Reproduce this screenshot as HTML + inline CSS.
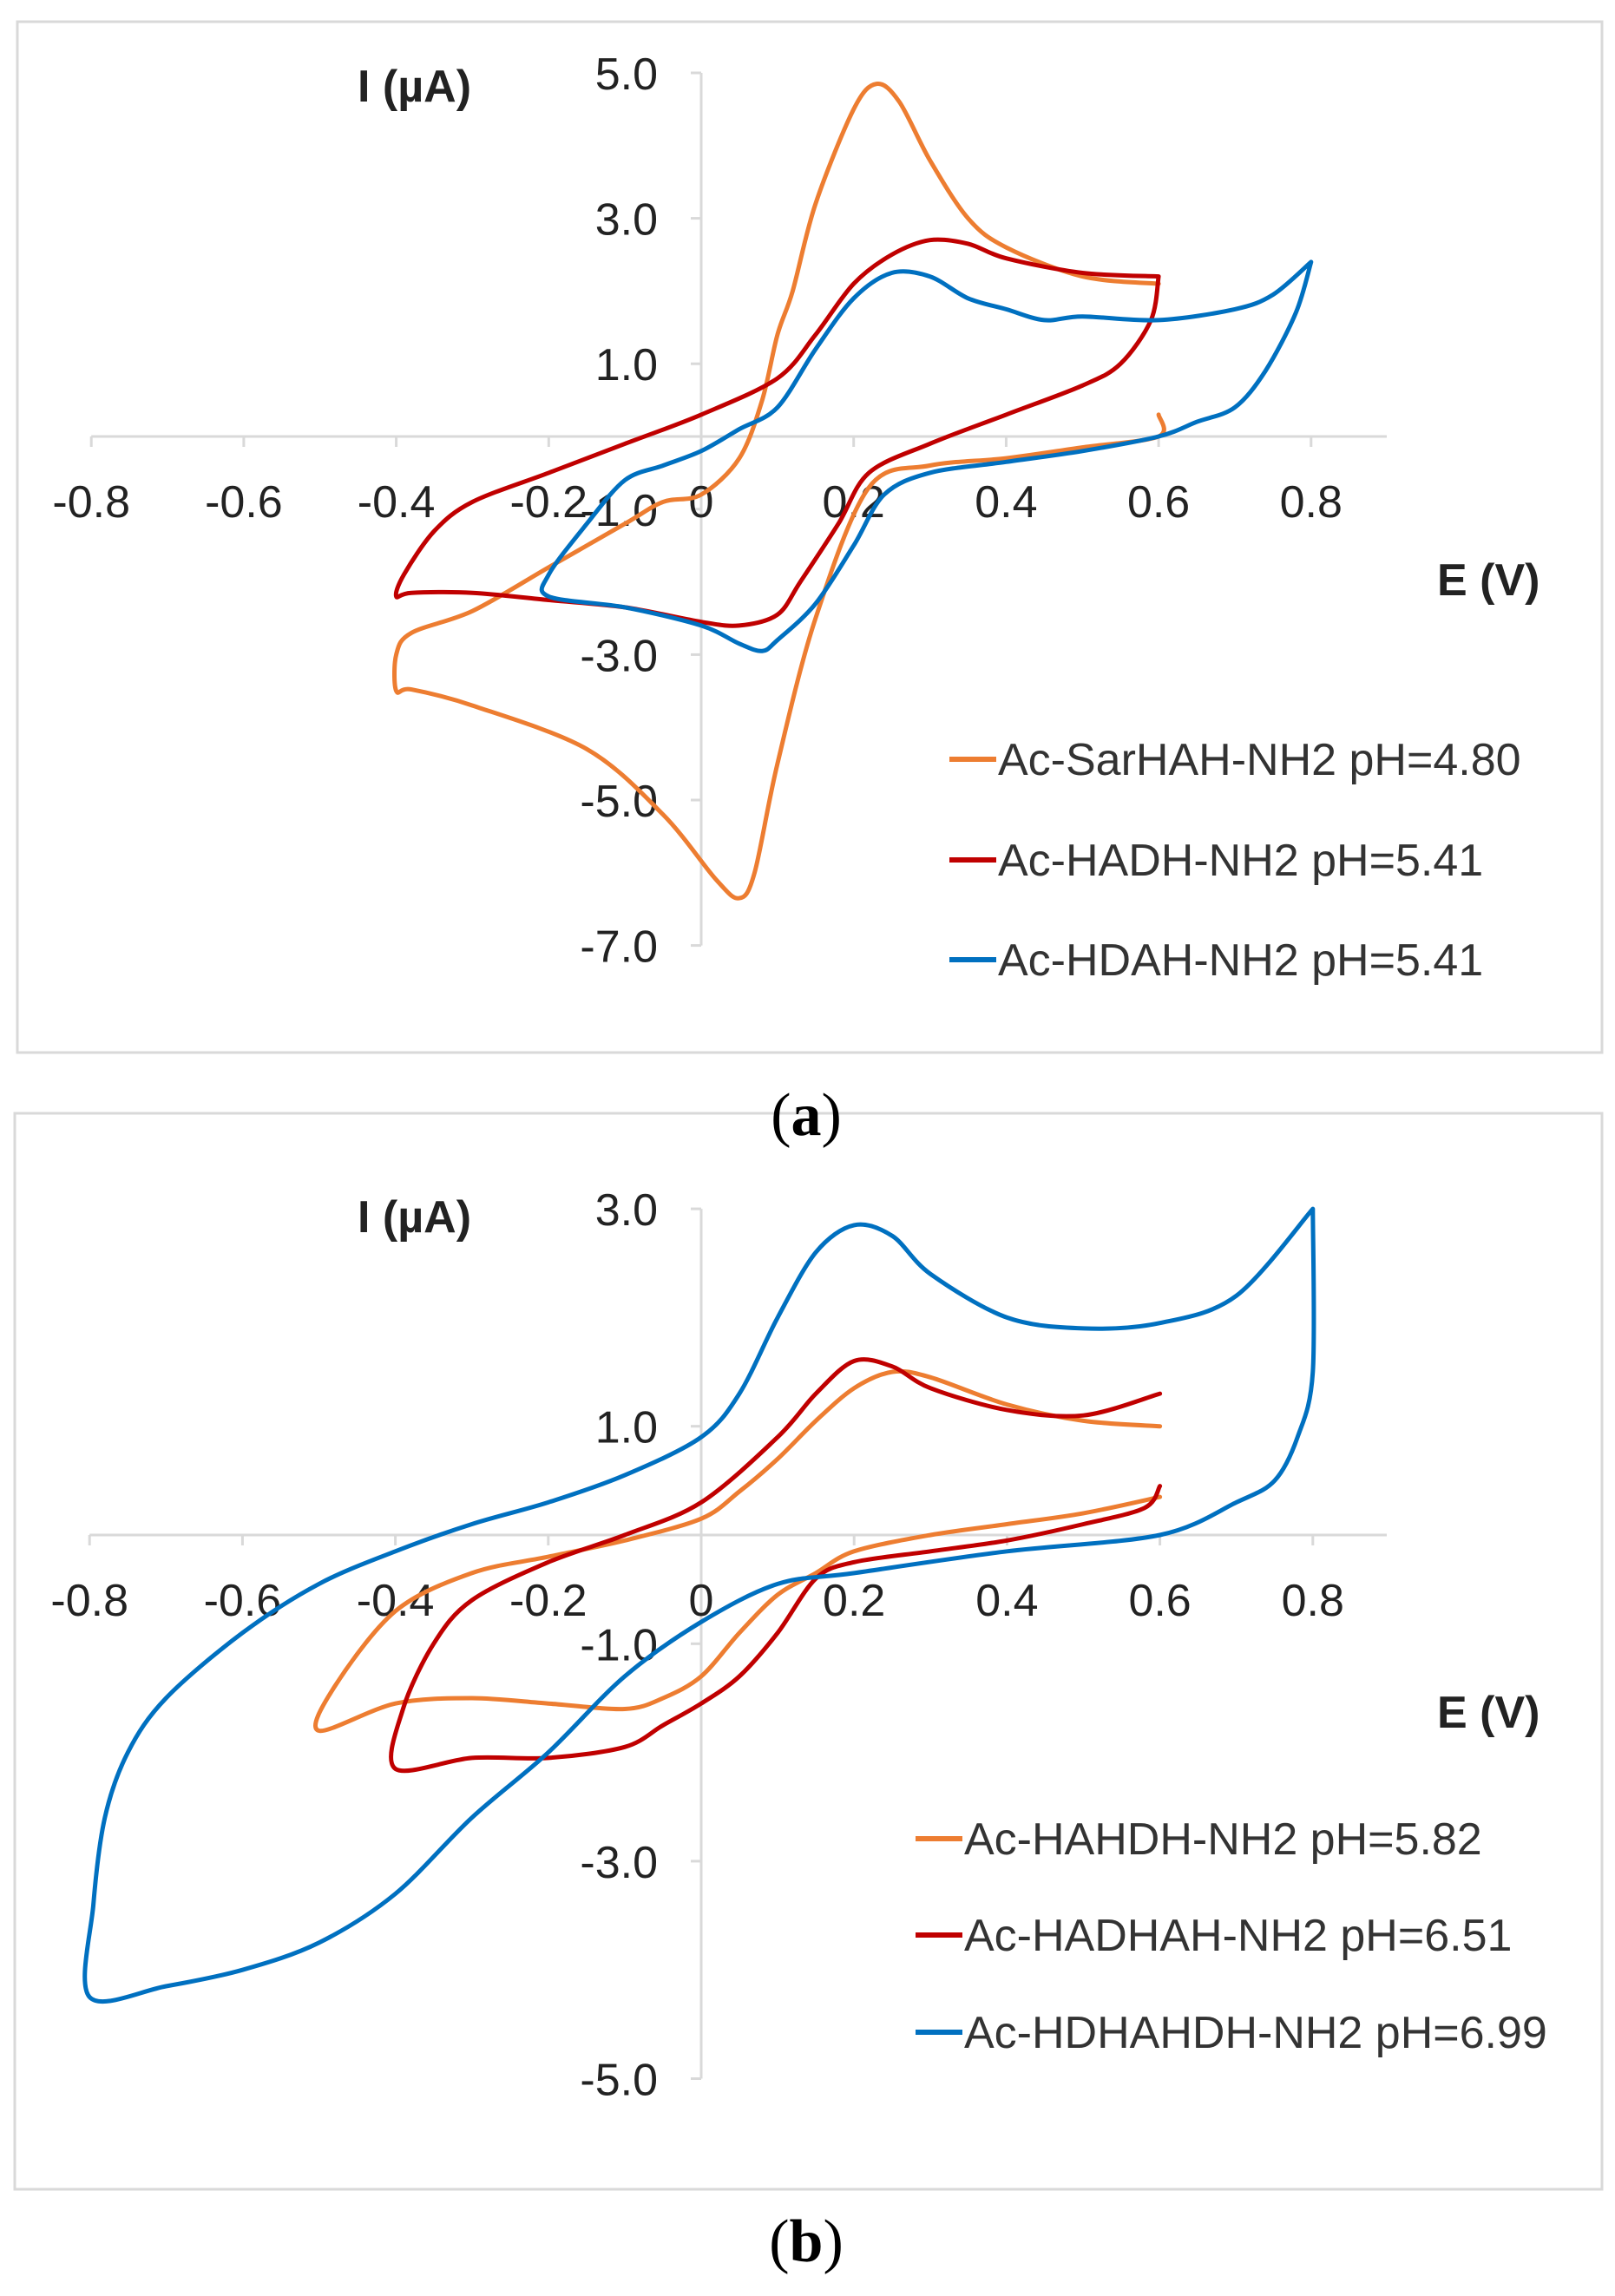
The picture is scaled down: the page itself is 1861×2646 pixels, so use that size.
<!DOCTYPE html>
<html><head><meta charset="utf-8"><style>
html,body{margin:0;padding:0;background:#fff;}
svg{display:block;}
.sans{font-family:"Liberation Sans",sans-serif;}
.serif{font-family:"Liberation Serif",serif;}
</style></head><body>
<svg id="fig" width="1861" height="2646" viewBox="0 0 1861 2646" xmlns="http://www.w3.org/2000/svg">
<rect x="20" y="25" width="1826" height="1188" fill="none" stroke="#d9d9d9" stroke-width="3"/>
<rect x="17" y="1283" width="1829" height="1240" fill="none" stroke="#d9d9d9" stroke-width="3"/>
<text class="serif" x="929" y="1308" font-size="70" text-anchor="middle">(<tspan font-weight="bold">a</tspan>)</text>
<text class="serif" x="929" y="2606" font-size="70" text-anchor="middle">(<tspan font-weight="bold">b</tspan>)</text>
</svg>
<script>
// Panel A data
const aXTicks = [-0.8,-0.6,-0.4,-0.2,0,0.2,0.4,0.6,0.8];
const aYTicks = [5.0,3.0,1.0,-1.0,-3.0,-5.0,-7.0];
const aNames = ["Ac-SarHAH-NH2 pH=4.80","Ac-HADH-NH2 pH=5.41","Ac-HDAH-NH2 pH=5.41"];
const aOrangeE = [0.6,0.6,0.5,0.4,0.3,0.22,0.15,0.1,0.07,0.05,0.02,-0.05,-0.15,-0.3,-0.38,-0.4,-0.4,-0.38,-0.3,-0.2,-0.1,-0.05,0,0.05,0.08,0.1,0.12,0.15,0.2,0.23,0.26,0.3,0.35,0.4,0.5,0.6];
const aOrangeI = [0.3,0.0,-0.15,-0.3,-0.4,-0.7,-2.5,-4.5,-6.0,-6.35,-6.1,-5.2,-4.3,-3.7,-3.48,-3.5,-3.0,-2.7,-2.4,-1.8,-1.2,-0.9,-0.8,-0.3,0.5,1.4,2.0,3.2,4.5,4.85,4.6,3.8,3.0,2.6,2.2,2.1];
const aRedE = [0.6,0.59,0.55,0.5,0.4,0.3,0.22,0.18,0.13,0.1,0.05,0,-0.1,-0.2,-0.3,-0.38,-0.4,-0.39,-0.35,-0.3,-0.2,-0.1,0,0.1,0.15,0.2,0.25,0.3,0.35,0.4,0.5,0.6];
const aRedI = [2.2,1.6,1.0,0.7,0.3,-0.1,-0.5,-1.2,-2.0,-2.45,-2.6,-2.55,-2.35,-2.25,-2.15,-2.15,-2.2,-1.9,-1.3,-0.9,-0.5,-0.1,0.3,0.8,1.4,2.1,2.5,2.7,2.65,2.45,2.25,2.2];
const aBlueE = [0.8,0.78,0.74,0.7,0.65,0.6,0.5,0.4,0.3,0.24,0.2,0.15,0.1,0.08,0.05,0,-0.1,-0.2,-0.2,-0.15,-0.1,-0.05,0,0.05,0.1,0.15,0.2,0.25,0.3,0.35,0.4,0.45,0.5,0.6,0.7,0.75,0.8];
const aBlueI = [2.4,1.7,0.9,0.4,0.2,0.0,-0.2,-0.35,-0.5,-0.8,-1.5,-2.3,-2.8,-2.95,-2.85,-2.6,-2.35,-2.2,-1.9,-1.2,-0.6,-0.4,-0.2,0.1,0.4,1.2,1.9,2.25,2.2,1.9,1.75,1.6,1.65,1.6,1.75,1.95,2.4];
// Panel B data
const bXTicks = [-0.8,-0.6,-0.4,-0.2,0,0.2,0.4,0.6,0.8];
const bYTicks = [3.0,1.0,-1.0,-3.0,-5.0];
const bNames = ["Ac-HAHDH-NH2 pH=5.82","Ac-HADHAH-NH2 pH=6.51","Ac-HDHAHDH-NH2 pH=6.99"];
const bOrangeE = [0.6,0.5,0.4,0.3,0.2,0.15,0.1,0.05,0,-0.05,-0.1,-0.2,-0.3,-0.4,-0.5,-0.48,-0.4,-0.3,-0.2,-0.1,0,0.05,0.1,0.15,0.2,0.25,0.3,0.4,0.5,0.6];
const bOrangeI = [0.35,0.2,0.1,0.0,-0.15,-0.35,-0.55,-0.9,-1.3,-1.5,-1.6,-1.55,-1.5,-1.55,-1.8,-1.4,-0.7,-0.35,-0.2,-0.05,0.15,0.4,0.7,1.05,1.35,1.5,1.45,1.2,1.05,1.0];
const bRedE = [0.6,0.58,0.5,0.4,0.3,0.2,0.15,0.1,0.05,0,-0.05,-0.1,-0.2,-0.3,-0.4,-0.39,-0.35,-0.3,-0.2,-0.1,0,0.1,0.15,0.2,0.25,0.3,0.4,0.5,0.6];
const bRedI = [0.45,0.25,0.1,-0.05,-0.15,-0.25,-0.4,-0.9,-1.3,-1.55,-1.75,-1.95,-2.05,-2.05,-2.15,-1.6,-1.0,-0.6,-0.25,0.0,0.3,0.9,1.3,1.6,1.55,1.35,1.15,1.1,1.3];
const bBlueE = [0.8,0.8,0.78,0.75,0.7,0.6,0.4,0.2,0.1,0,-0.1,-0.2,-0.3,-0.4,-0.5,-0.6,-0.7,-0.8,-0.795,-0.78,-0.75,-0.7,-0.6,-0.5,-0.4,-0.3,-0.2,-0.1,0,0.05,0.1,0.15,0.2,0.25,0.3,0.4,0.5,0.6,0.7,0.8];
const bBlueI = [3.0,1.5,0.9,0.5,0.3,0.0,-0.15,-0.35,-0.45,-0.8,-1.3,-2.0,-2.6,-3.3,-3.75,-4.0,-4.15,-4.25,-3.4,-2.6,-2.0,-1.5,-0.9,-0.45,-0.15,0.1,0.3,0.55,0.9,1.3,2.0,2.6,2.85,2.75,2.4,2.0,1.9,1.95,2.2,3.0];

const svg = document.getElementById('fig');
const NS = 'http://www.w3.org/2000/svg';
const colors = ['#ED7D31','#C00000','#0070C0'];
function mk(tag, attrs, txt){const e=document.createElementNS(NS,tag);for(const k in attrs)e.setAttribute(k,attrs[k]);if(txt!==undefined)e.textContent=txt;svg.appendChild(e);return e;}

function smoothPath(raw){
  const P = raw.filter((q,i)=> i===0 || Math.hypot(q[0]-raw[i-1][0], q[1]-raw[i-1][1]) > 1);
  let d = 'M'+P[0][0].toFixed(1)+','+P[0][1].toFixed(1);
  const t = 0.16;
  for(let i=0;i<P.length-1;i++){
    const p0=P[Math.max(0,i-1)], p1=P[i], p2=P[i+1], p3=P[Math.min(P.length-1,i+2)];
    const c1=[p1[0]+(p2[0]-p0[0])*t, p1[1]+(p2[1]-p0[1])*t];
    const c2=[p2[0]-(p3[0]-p1[0])*t, p2[1]-(p3[1]-p1[1])*t];
    d += ' C'+c1[0].toFixed(1)+','+c1[1].toFixed(1)+' '+c2[0].toFixed(1)+','+c2[1].toFixed(1)+' '+p2[0].toFixed(1)+','+p2[1].toFixed(1);
  }
  return d;
}

function panel(p, cfg){
  const sx = v => cfg.x0 + v*cfg.xs;
  const sy = v => cfg.y0 - v*cfg.ys;
  const yMax = cfg.yTicks[0], yMin = cfg.yTicks[cfg.yTicks.length-1];
  let e;
  e = mk('line',{x1:sx(0),x2:sx(0),y1:sy(yMax),y2:sy(yMin),stroke:'#d9d9d9','stroke-width':3});
  
  
  e = mk('line',{x1:sx(-0.8),x2:cfg.xEnd,y1:sy(0),y2:sy(0),stroke:'#d9d9d9','stroke-width':3});
  
  
  cfg.yTicks.forEach(t=>{
    mk('line',{x1:sx(0)-12,x2:sx(0),y1:sy(t),y2:sy(t),stroke:'#d9d9d9','stroke-width':3});
    e = mk('text',{class:'sans',x:sx(0)-50,y:sy(t)+19,'font-size':52,'text-anchor':'end',fill:'#222'},t.toFixed(1));
    
    
  });
  cfg.xTicks.forEach(t=>{
    mk('line',{x1:sx(t),x2:sx(t),y1:sy(0),y2:sy(0)+12,stroke:'#d9d9d9','stroke-width':3});
    e = mk('text',{class:'sans',x:sx(t),y:sy(0)+93,'font-size':52,'text-anchor':'middle',fill:'#222'},t===0?'0':String(t));
    
    
  });
  cfg.series.forEach((s,i)=>{
    const P = s[0].map((v,j)=>[sx(v), sy(s[1][j])]);
    e = mk('path',{d:smoothPath(P),fill:'none',stroke:colors[i],'stroke-width':5,'stroke-linejoin':'round','stroke-linecap':'round'});
    
    
  });
  cfg.names.forEach((n,i)=>{
    const y = cfg.legY[i];
    mk('line',{x1:cfg.legX,x2:cfg.legX+54,y1:y,y2:y,stroke:colors[i],'stroke-width':6});
    e = mk('text',{class:'sans',x:cfg.legX+56,y:y+18,'font-size':52,fill:'#333'},n);
    
    
  });
  e = mk('text',{class:'sans',x:412,y:cfg.iy,'font-size':52,'font-weight':'bold',fill:'#222'},'I (µA)');
  
  
  e = mk('text',{class:'sans',x:1656,y:cfg.ey,'font-size':52,'font-weight':'bold',fill:'#222'},'E (V)');
  
  
}

panel('a',{x0:808,xs:878.5,y0:503,ys:83.8,xEnd:1598,xTicks:aXTicks,yTicks:aYTicks,names:aNames,
  series:[[aOrangeE,aOrangeI],[aRedE,aRedI],[aBlueE,aBlueI]],legX:1094,legY:[875,991,1106],iy:117,ey:686});
panel('b',{x0:808,xs:881,y0:1769,ys:125.3,xEnd:1598,xTicks:bXTicks,yTicks:bYTicks,names:bNames,
  series:[[bOrangeE,bOrangeI],[bRedE,bRedI],[bBlueE,bBlueI]],legX:1055,legY:[2119,2230,2342],iy:1420,ey:1991});
</script>
</body></html>
